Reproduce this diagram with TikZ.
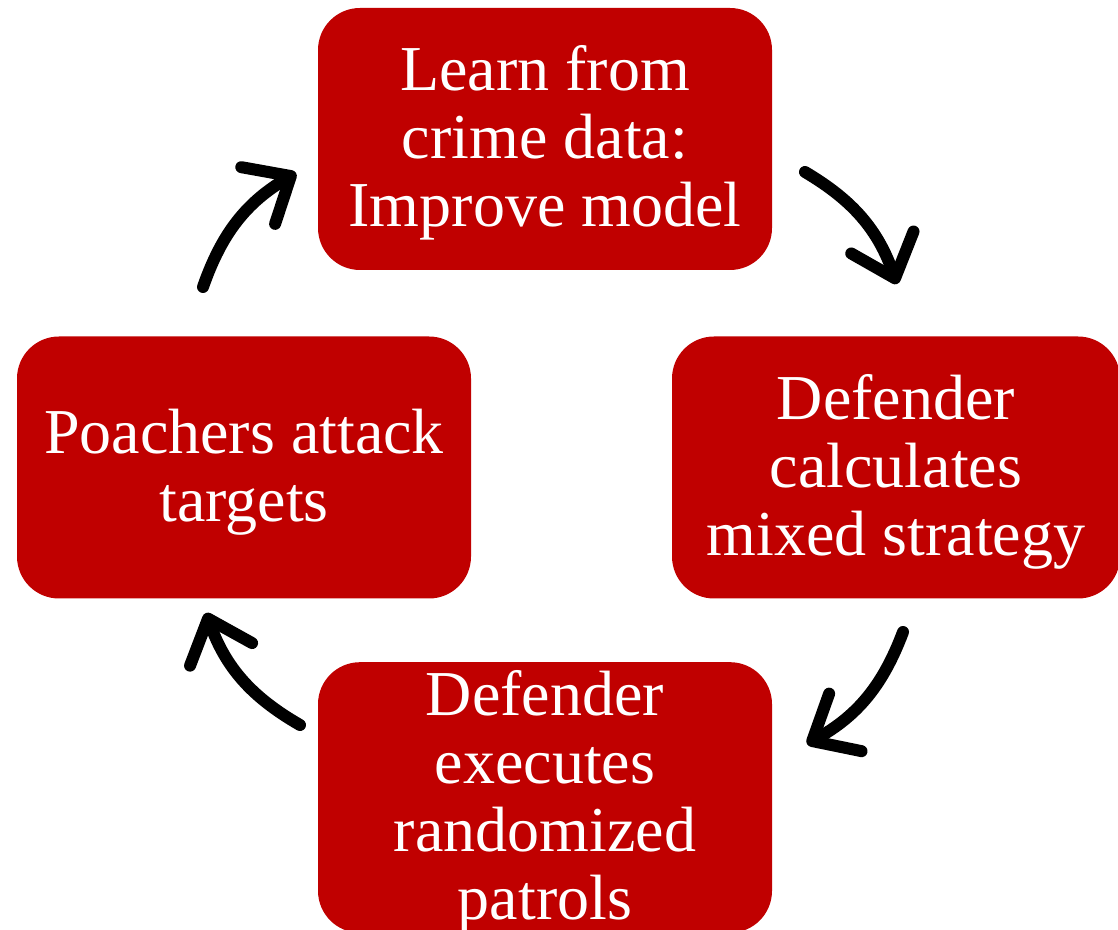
\documentclass[tikz,border=0pt]{standalone}
\usepackage{fontspec}
\setmainfont{Liberation Serif}
\usetikzlibrary{arrows.meta}
\definecolor{boxred}{HTML}{C00000}
% extra room above the first line, which sets the text a little lower in its box
\newcommand\toppad{\rule{0pt}{53pt}}
\begin{document}
\begin{tikzpicture}[x=1pt,y=1pt,
  stagebox/.style={fill=boxred, rounded corners=42pt, text=white, align=center,
    font=\fontsize{64}{68}\selectfont, inner sep=0pt},
  cyclearrow/.style={line width=12pt, line cap=round, line join=round,
    -{Straight Barb[length=38pt,width=66pt,line cap=round,line join=round]},
    bend left=20}]
\useasboundingbox (0,0) rectangle (1118,929);

% stage boxes
\node[stagebox, minimum width=454pt, minimum height=262pt] (learn) at (545,790)
  {\toppad Learn from\\crime data:\\Improve model};
\node[stagebox, minimum width=448pt, minimum height=262pt] (calc) at (896,461.5)
  {\toppad Defender\\calculates\\mixed strategy};
\node[stagebox, minimum width=454pt, minimum height=265pt] (patrol) at (545,131.5)
  {\toppad Defender\\executes\\randomized\\patrols};
\node[stagebox, minimum width=454pt, minimum height=262pt] (attack) at (244,461.5)
  {\toppad Poachers attack\\targets};

% arrow end points between the boxes
\coordinate (a1s) at (203,642); \coordinate (a1e) at (296,756);
\coordinate (a2s) at (805,757); \coordinate (a2e) at (897,645);
\coordinate (a3s) at (903,297); \coordinate (a3e) at (807,185);
\coordinate (a4s) at (300,204); \coordinate (a4e) at (206,316);

\draw[cyclearrow] (a1s) to (a1e);
\draw[cyclearrow] (a2s) to (a2e);
\draw[cyclearrow] (a3s) to (a3e);
\draw[cyclearrow] (a4s) to (a4e);
\end{tikzpicture}
\end{document}
